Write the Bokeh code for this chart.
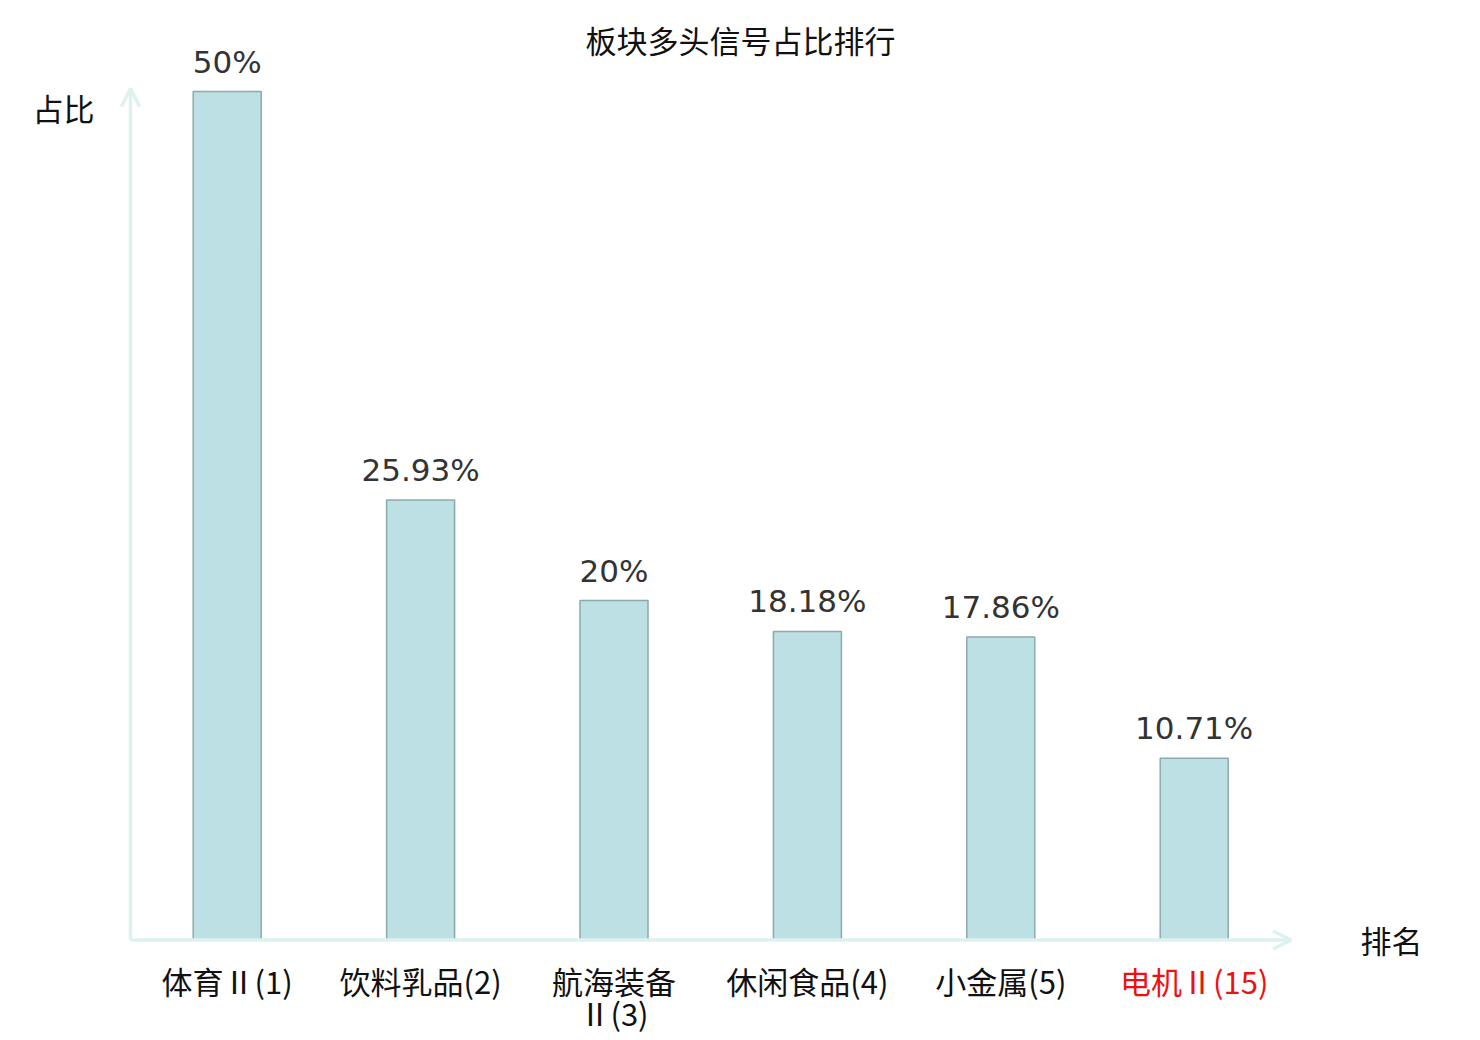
from bokeh.plotting import figure
from bokeh.models import Range1d, Arrow, OpenHead, ColumnDataSource
from bokeh.core.properties import value
from bokeh.embed import file_html
from bokeh.resources import INLINE

title = "板块多头信号占比排行"
categories = ["体育Ⅱ(1)", "饮料乳品(2)", "航海装备\nⅡ(3)", "休闲食品(4)", "小金属(5)", "电机Ⅱ(15)"]
shares = [0.50, 0.2593, 0.20, 0.1818, 0.1786, 0.1071]
share_labels = ["50%", "25.93%", "20%", "18.18%", "17.86%", "10.71%"]
label_colors = ["#111111", "#111111", "#111111", "#111111", "#111111", "#ee1111"]
y_name = "占比"
x_name = "排名"

W, H = 1472, 1032
ppx = 193.4          # pixels per category
ppy = 1697.0         # pixels per unit share
x0_px, y0_px = 130, 939.5   # origin in figure pixels (from top-left)

p = figure(width=W, height=H, output_backend="svg", toolbar_location=None,
           x_axis_type=None, y_axis_type=None,
           x_range=Range1d(-x0_px / ppx, (W - x0_px) / ppx),
           y_range=Range1d(-(H - y0_px) / ppy, y0_px / ppy),
           min_border=0, min_border_left=0, min_border_right=0,
           min_border_top=0, min_border_bottom=0)
p.outline_line_color = None
p.grid.visible = False
p.background_fill_color = "white"

xs = [i + 0.5 for i in range(len(categories))]
src = ColumnDataSource(dict(x=xs, top=shares, lab=share_labels, cat=categories, col=label_colors))

p.vbar(x="x", top="top", bottom=0, width=68 / ppx, source=src,
       fill_color="#bce0e3", line_color="#8ea9ab", line_width=1.5)

axis_col = "#ddf2ef"
p.add_layout(Arrow(end=OpenHead(size=18, line_color=axis_col, line_width=3.5),
                   x_start=0, y_start=0, x_end=len(categories), y_end=0,
                   line_color=axis_col, line_width=3.5))
p.add_layout(Arrow(end=OpenHead(size=18, line_color=axis_col, line_width=3.5),
                   x_start=0, y_start=0, x_end=0, y_end=0.5 + 3 / ppy,
                   line_color=axis_col, line_width=3.5))

p.text(x="x", y="top", text="lab", source=src, text_align="center", text_baseline="middle",
       y_offset=-30, text_font=value("DejaVu Sans"), text_font_size="31px", text_color="#333333")

p.text(x="x", y=0, text="cat", source=src, text_align="center", text_baseline="top",
       y_offset=18, text_font=value("Noto Sans CJK SC"), text_font_size="31px",
       text_color="col", text_line_height=0.72)

def px_to_data(xp, yp):
    return (xp - x0_px) / ppx, (y0_px - yp) / ppy

for txt, (xp, yp) in [(title, (740, 39)), (y_name, (63, 107)), (x_name, (1391, 939))]:
    dx, dy = px_to_data(xp, yp)
    p.text(x=[dx], y=[dy], text=[txt], text_align="center", text_baseline="middle",
           text_font=value("Noto Sans CJK SC"), text_font_size="31px", text_color="#111111")

open("out.html", "w").write(file_html(p, INLINE))
